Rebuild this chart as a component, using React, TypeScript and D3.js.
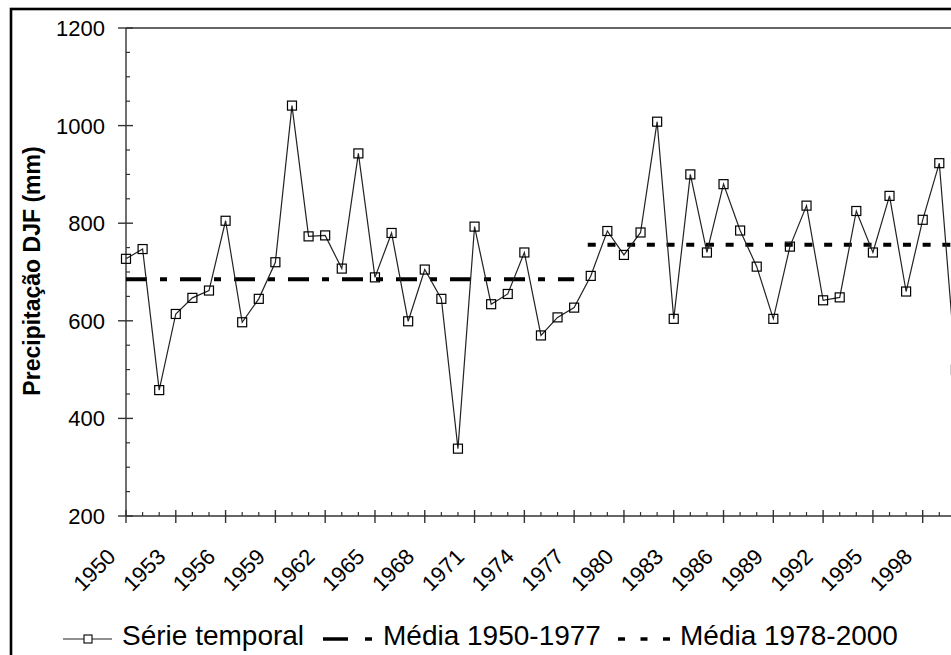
import React from 'react';
import * as d3 from 'd3';

const years: number[] = d3.range(1950, 2001);
const precip: number[] = [
  727, 747, 458, 614, 647, 662, 805, 597, 645, 720,
  1041, 773, 775, 707, 943, 689, 780, 599, 705, 645,
  338, 793, 634, 655, 740, 570, 607, 627, 692, 784,
  735, 781, 1008, 604, 900, 740, 880, 785, 711, 604,
  752, 836, 642, 648, 825, 740, 856, 660, 807, 923,
  500,
];
const yTicks: number[] = [200, 400, 600, 800, 1000, 1200];
const xTickLabels: number[] = [1950, 1953, 1956, 1959, 1962, 1965, 1968, 1971, 1974, 1977, 1980, 1983, 1986, 1989, 1992, 1995, 1998];
const meanPeriods = [
  { label: 'Média 1950-1977', start: 1950, end: 1977, value: 685 },
  { label: 'Média 1978-2000', start: 1978, end: 2001, value: 756 },
];
const seriesLabel = 'Série temporal';
const yTitle = 'Precipitação DJF (mm)';

const W = 951;
const H = 655;
const FONT = "'Liberation Sans', Arial, Helvetica, sans-serif";

export default function App() {
  const x = d3.scaleLinear().domain([1950, 2001]).range([126, 972.5]);
  const y = d3.scaleLinear().domain([200, 1200]).range([516, 28]);
  const line = d3.line<number>().x((_, i) => x(years[i])).y((d) => y(d));

  const majorX = d3.range(1950, 2002, 3);
  const minorX = d3.range(1950, 2002).filter((v) => (v - 1950) % 3 !== 0);
  const minorY = d3.range(250, 1200, 50).filter((v) => v % 200 !== 0);
  const axisColor = '#333';

  return (
    <svg
      width={W}
      height={H}
      style={{ position: 'absolute', left: 0, top: 0, display: 'block', background: '#fff', overflow: 'hidden' }}
      fontFamily={FONT}
    >
      <rect x={0} y={0} width={W} height={H} fill="#fff" />
      {/* outer border */}
      <rect x={11} y={9} width={1000} height={700} fill="none" stroke="#000" strokeWidth={2.6} />

      {/* top frame */}
      <line x1={x(1950)} x2={W + 10} y1={y(1200)} y2={y(1200)} stroke={axisColor} strokeWidth={1.4} />
      {/* y axis */}
      <line x1={x(1950)} x2={x(1950)} y1={y(1200)} y2={y(200)} stroke={axisColor} strokeWidth={1.4} />
      {yTicks.map((t) => (
        <g key={'yt' + t}>
          <line x1={x(1950) - 8} x2={x(1950) + 7} y1={y(t)} y2={y(t)} stroke={axisColor} strokeWidth={1.4} />
          <text x={105} y={y(t)} dy="0.36em" textAnchor="end" fontSize={22} fill="#000">{t}</text>
        </g>
      ))}
      {minorY.map((t) => (
        <line key={'ym' + t} x1={x(1950)} x2={x(1950) + 4} y1={y(t)} y2={y(t)} stroke={axisColor} strokeWidth={1.2} />
      ))}
      {/* x axis */}
      <line x1={x(1950)} x2={W + 10} y1={y(200)} y2={y(200)} stroke={axisColor} strokeWidth={1.4} />
      {majorX.map((t) => (
        <line key={'xt' + t} x1={x(t)} x2={x(t)} y1={y(200) - 6} y2={y(200) + 7} stroke={axisColor} strokeWidth={1.4} />
      ))}
      {minorX.map((t) => (
        <line key={'xm' + t} x1={x(t)} x2={x(t)} y1={y(200) - 4} y2={y(200)} stroke={axisColor} strokeWidth={1.2} />
      ))}
      {xTickLabels.map((t) => (
        <text
          key={'xl' + t}
          transform={`translate(${x(t) - 9},${558}) rotate(-45)`}
          textAnchor="end"
          fontSize={22}
          fill="#000"
        >
          {t}
        </text>
      ))}

      {/* y title */}
      <text transform={`translate(40,271) rotate(-90)`} textAnchor="middle" fontSize={23} fontWeight="bold" fill="#000">
        {yTitle}
      </text>

      {/* mean lines */}
      <line
        x1={x(meanPeriods[0].start)}
        x2={x(meanPeriods[0].end)}
        y1={y(meanPeriods[0].value)}
        y2={y(meanPeriods[0].value)}
        stroke="#000"
        strokeWidth={4}
        strokeDasharray="21 13 7 13"
      />
      <line
        x1={x(meanPeriods[1].start) - 3}
        x2={x(meanPeriods[1].end)}
        y1={y(meanPeriods[1].value)}
        y2={y(meanPeriods[1].value)}
        stroke="#000"
        strokeWidth={4}
        strokeDasharray="8 11.7"
      />

      {/* series */}
      <path d={line(precip) || ''} fill="none" stroke="#222" strokeWidth={1.2} />
      {precip.map((v, i) => (
        <rect
          key={'m' + i}
          x={x(years[i]) - 4.5}
          y={y(v) - 4.5}
          width={9}
          height={9}
          fill="none"
          stroke="#000"
          strokeWidth={1.2}
        />
      ))}

      {/* legend */}
      <g>
        <line x1={63} x2={112} y1={639} y2={639} stroke="#222" strokeWidth={1.2} />
        <rect x={84} y={635} width={8} height={8} fill="#fff" stroke="#000" strokeWidth={1.1} />
        <text x={122} y={645} fontSize={28} fill="#000">{seriesLabel}</text>

        <line x1={323} x2={372} y1={639} y2={639} stroke="#000" strokeWidth={3.6} strokeDasharray="25 17 7 100" />
        <text x={383} y={645} fontSize={28} fill="#000">{meanPeriods[0].label}</text>

        <line x1={618} x2={670} y1={639} y2={639} stroke="#000" strokeWidth={3.6} strokeDasharray="7 15.5" />
        <text x={680} y={645} fontSize={28} fill="#000">{meanPeriods[1].label}</text>
      </g>
    </svg>
  );
}
